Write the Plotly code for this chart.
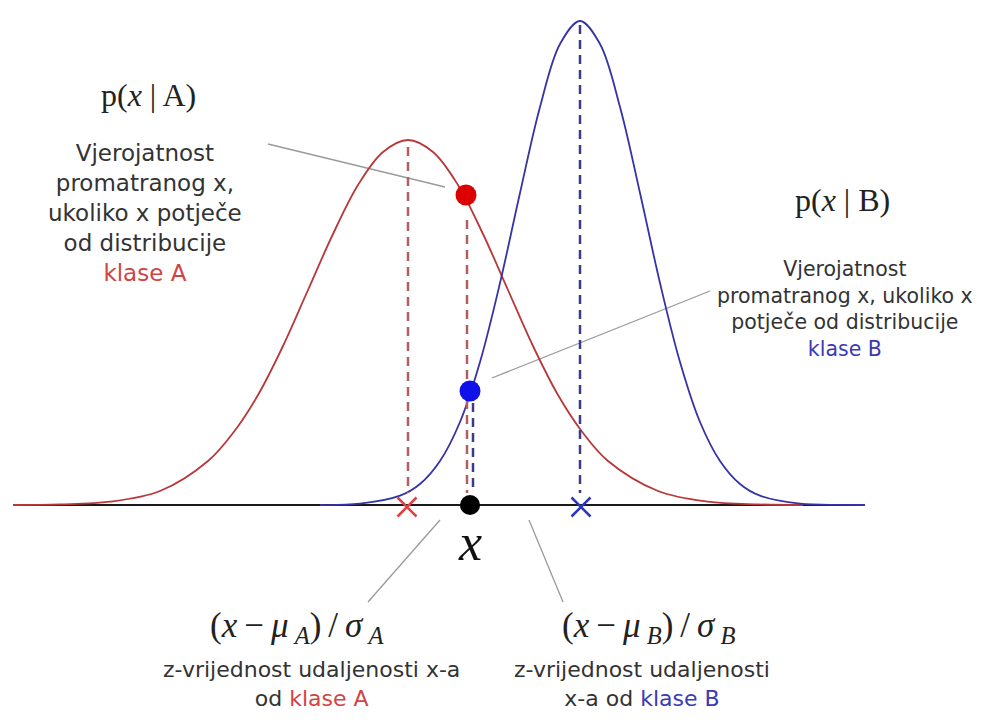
import plotly.graph_objects as go

# ---- data (x in px-like units, y = height above baseline) ----
red_x = [13, 60, 110, 160, 208, 233, 258, 283, 308, 333, 358, 383, 408,
         433, 458, 483, 508, 533, 558, 583, 608, 658, 708, 758, 803]
red_y = [0, 0.6, 3.3, 14, 44, 72, 110, 159, 215, 271, 320, 353, 365,
         353, 320, 271, 215, 159, 110, 72, 44, 14, 3.3, 0.6, 0]

blue_x = [320, 360, 400, 420, 440, 460, 480, 500, 520, 540, 560, 580,
          600, 620, 640, 660, 680, 700, 720, 740, 760, 800, 840, 865]
blue_y = [0, 1.3, 9.3, 21, 44, 83, 143, 222, 312, 398, 461, 484,
          461, 398, 312, 222, 143, 83, 44, 21, 9.3, 1.3, 0.1, 0]

baseline_x = [13, 865]
baseline_y = [0, 0]

mean_x = [407, 581]          # class means (x markers)
mean_y = [-2, -2]
obs_x = 470                  # observed x
red_point = (466, 310)       # p(x|A)
blue_point = (470, 114)      # p(x|B)

# dashed guide lines: (x, y_top, y_bottom)
red_dashes = [(408, 358, 12), (467, 285, 12)]
blue_dashes = [(580, 480, 12), (473, 102, 12)]

RED = "#b8383a"
BLUE = "#3434a6"
TXT = "#333333"


def Y(py):
    return 505 - py


fig = go.Figure()

fig.add_trace(go.Scatter(x=baseline_x, y=baseline_y, mode="lines",
                         line=dict(color="#1a1a1a", width=2), hoverinfo="skip"))
fig.add_trace(go.Scatter(x=red_x, y=red_y, mode="lines",
                         line=dict(color=RED, width=1.8, shape="spline"), hoverinfo="skip"))
fig.add_trace(go.Scatter(x=blue_x, y=blue_y, mode="lines",
                         line=dict(color=BLUE, width=1.8, shape="spline"), hoverinfo="skip"))

for xd, yt, yb in red_dashes:
    fig.add_trace(go.Scatter(x=[xd, xd], y=[yt, yb], mode="lines",
                             line=dict(color="#b06060", width=2.5, dash="9px,6px"),
                             hoverinfo="skip"))
for xd, yt, yb in blue_dashes:
    fig.add_trace(go.Scatter(x=[xd, xd], y=[yt, yb], mode="lines",
                             line=dict(color="#3c3c86", width=2.5, dash="9px,6px"),
                             hoverinfo="skip"))

# points
fig.add_trace(go.Scatter(x=[red_point[0]], y=[red_point[1]], mode="markers",
                         marker=dict(size=21, color="#dd0000"), hoverinfo="skip"))
fig.add_trace(go.Scatter(x=[blue_point[0]], y=[blue_point[1]], mode="markers",
                         marker=dict(size=21, color="#1010e8"), hoverinfo="skip"))
fig.add_trace(go.Scatter(x=[obs_x], y=[0], mode="markers",
                         marker=dict(size=20, color="#000000"), hoverinfo="skip"))
fig.add_trace(go.Scatter(x=[mean_x[0]], y=[mean_y[0]], mode="markers",
                         marker=dict(symbol="x-thin", size=19, line=dict(width=2.5, color="#e04040")),
                         hoverinfo="skip"))
fig.add_trace(go.Scatter(x=[mean_x[1]], y=[mean_y[1]], mode="markers",
                         marker=dict(symbol="x-thin", size=19, line=dict(width=2.5, color="#2a36c0")),
                         hoverinfo="skip"))

# gray pointer lines
pointers = [((268, 144), (445, 187)), ((492, 378), (710, 291)),
            ((440, 520), (368, 602)), ((529, 520), (563, 602))]
shapes = []
for (x0, y0), (x1, y1) in pointers:
    shapes.append(dict(type="line", xref="x", yref="y", x0=x0, y0=Y(y0), x1=x1, y1=Y(y1),
                       line=dict(color="#9a9a9a", width=1.3), layer="below"))

SERIF = "Liberation Serif, Times New Roman, serif"
SANS = "DejaVu Sans, sans-serif"

ann = []
def add(x, py, text, size, family, color=TXT):
    ann.append(dict(x=x, y=Y(py), xref="x", yref="y", text=text, showarrow=False,
                    xanchor="center", yanchor="middle",
                    font=dict(size=size, family=family, color=color)))

TS = "\u2009"  # thin space
add(148, 95, "p(<i>x</i> | A)", 32, SERIF, "#222222")
add(145, 213, "Vjerojatnost<br>promatranog x,<br>ukoliko x potječe<br>od distribucije<br>"
              "<span style='color:#d04444'>klase A</span>", 23, SANS)
add(842, 200, "p(<i>x</i> | B)", 32, SERIF, "#222222")
add(845, 309, "Vjerojatnost<br>promatranog x, ukoliko x<br>potječe od distribucije<br>"
              "<span style='color:#3a3ab4'>klase B</span>", 20.5, SANS)
add(470, 542, "<i>x</i>", 52, SERIF, "#111111")
add(297, 627, f"(<i>x</i>{TS}−{TS}<i>μ</i><sub> <i>A</i></sub>){TS}/{TS}<i>σ</i><sub> <i>A</i></sub>",
    35, SERIF, "#222222")
add(648, 627, f"(<i>x</i>{TS}−{TS}<i>μ</i><sub> <i>B</i></sub>){TS}/{TS}<i>σ</i><sub> <i>B</i></sub>",
    35, SERIF, "#222222")
add(311, 684, "z-vrijednost udaljenosti x-a<br>od <span style='color:#d04444'>klase A</span>", 22, SANS)
add(642, 684, "z-vrijednost udaljenosti<br>x-a od <span style='color:#3a3ab4'>klase B</span>", 22, SANS)

# the page body has an 8 px margin: shift the axes so that content lands where the reference has it
OFF = 8
fig.update_layout(
    width=985 - OFF, height=720 - OFF,
    margin=dict(l=0, r=0, t=0, b=0),
    paper_bgcolor="white", plot_bgcolor="white",
    showlegend=False,
    xaxis=dict(range=[OFF, 985], visible=False, fixedrange=True),
    yaxis=dict(range=[-215, 505 - OFF], visible=False, fixedrange=True),
    shapes=shapes,
    annotations=ann,
)

fig.write_html("out.html")
